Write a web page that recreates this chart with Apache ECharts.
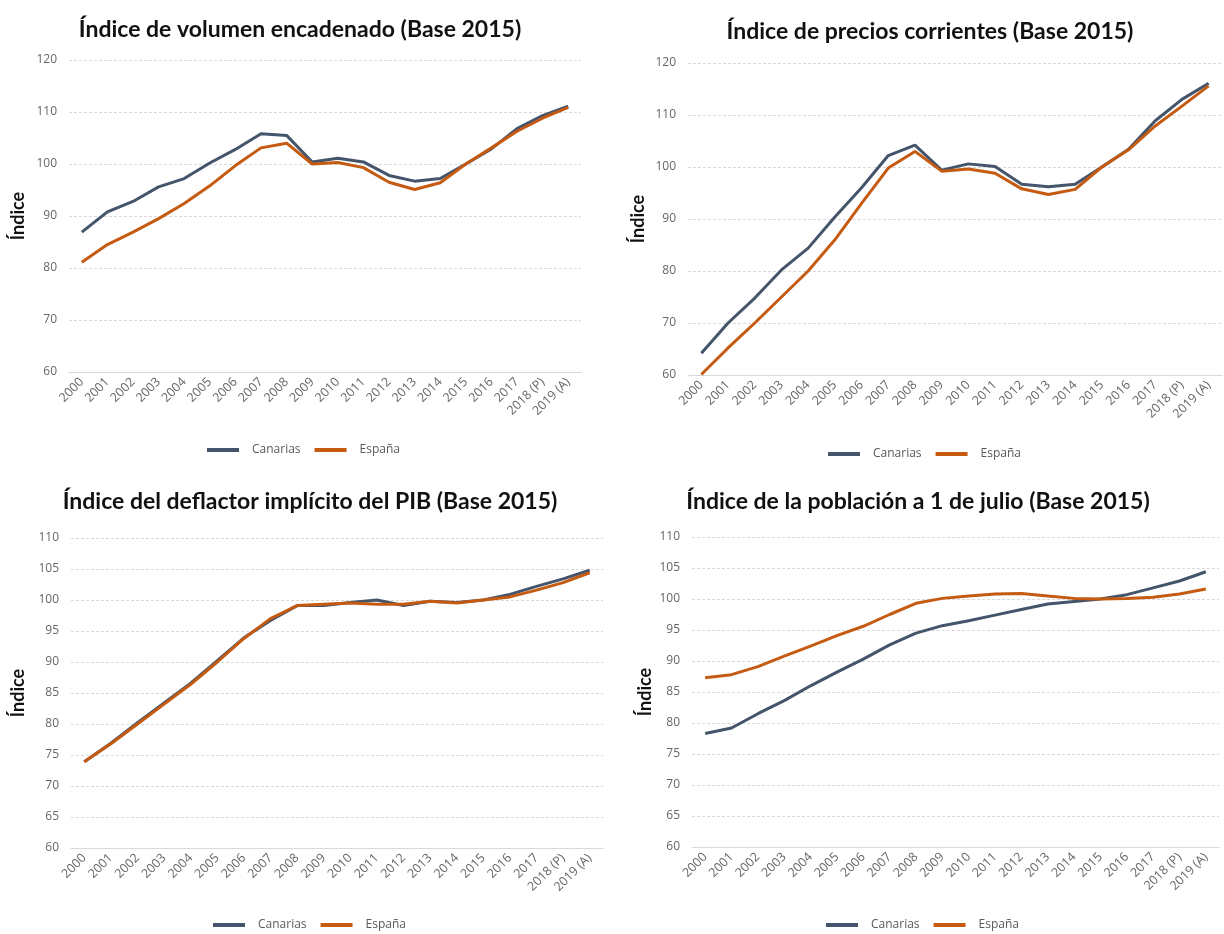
<!DOCTYPE html>
<html lang="es">
<head>
<meta charset="utf-8">
<title>Índices Base 2015</title>
<script src="https://cdn.jsdelivr.net/npm/echarts@6/dist/echarts.min.js"></script>
<style>
  html, body { margin: 0; padding: 0; background: #fff; }
  #chart { width: 1224px; height: 934px; }
</style>
</head>
<body>
<div id="chart"></div>
<script>
// categorias del eje x
var years = ['2000', '2001', '2002', '2003', '2004', '2005', '2006', '2007', '2008', '2009',
  '2010', '2011', '2012', '2013', '2014', '2015', '2016', '2017', '2018 (P)', '2019 (A)'];

// volumen encadenado
var volCanarias = [86.9, 90.8, 92.8, 95.6, 97.2, 100.2, 102.8, 105.8, 105.5, 100.4, 101.1, 100.4, 97.8, 96.7, 97.2, 100.0, 102.9, 106.8, 109.3, 111.1];
var volEspana   = [81.1, 84.5, 86.9, 89.5, 92.4, 95.8, 99.7, 103.1, 104.0, 100.0, 100.3, 99.3, 96.5, 95.1, 96.4, 100.0, 103.1, 106.3, 108.8, 110.9];

// precios corrientes
var preCanarias = [64.2, 70.0, 74.8, 80.2, 84.4, 90.4, 96.0, 102.2, 104.2, 99.4, 100.6, 100.1, 96.7, 96.2, 96.7, 100.0, 103.4, 108.9, 113.0, 116.1];
var preEspana   = [60.1, 65.2, 70.0, 75.0, 80.0, 86.0, 93.0, 99.8, 103.0, 99.2, 99.6, 98.8, 95.8, 94.7, 95.7, 100.0, 103.3, 107.9, 111.7, 115.6];

// deflactor implicito del PIB
var defCanarias = [73.9, 76.9, 80.2, 83.4, 86.6, 90.2, 93.9, 96.7, 99.1, 99.1, 99.6, 100.0, 99.1, 99.8, 99.6, 100.0, 100.9, 102.2, 103.4, 104.8];
var defEspana   = [73.9, 76.8, 80.0, 83.2, 86.4, 90.0, 93.8, 97.0, 99.1, 99.3, 99.5, 99.3, 99.3, 99.8, 99.5, 100.0, 100.5, 101.6, 102.8, 104.4];

// poblacion a 1 de julio
var pobCanarias = [78.3, 79.2, 81.5, 83.6, 86.0, 88.2, 90.3, 92.6, 94.5, 95.7, 96.5, 97.4, 98.3, 99.2, 99.6, 100.0, 100.7, 101.8, 102.9, 104.4];
var pobEspana   = [87.3, 87.8, 89.1, 90.8, 92.4, 94.1, 95.6, 97.5, 99.3, 100.1, 100.5, 100.8, 100.9, 100.5, 100.1, 100.0, 100.1, 100.3, 100.8, 101.6];

var titles = [
  'Índice de volumen encadenado (Base 2015)',
  'Índice de precios corrientes (Base 2015)',
  'Índice del deflactor implícito del PIB (Base 2015)',
  'Índice de la población a 1 de julio (Base 2015)'
];

var colCanarias = '#44546a', colEspana = '#c55a11';
var font = 'Lato, "Open Sans", sans-serif';
var labFont = '"Open Sans", Lato, sans-serif';

var panels = [
  { can: volCanarias, esp: volEspana, min: 60, max: 120, step: 10,
    grid: { left: 69, top: 60, width: 512, height: 312 }, title: [295, 28], legend: [294, 447], nameX: 18 },
  { can: preCanarias, esp: preEspana, min: 60, max: 120, step: 10,
    grid: { left: 688, top: 63, width: 534, height: 312 }, title: [925, 30], legend: [915, 451], nameX: 638 },
  { can: defCanarias, esp: defEspana, min: 60, max: 110, step: 5,
    grid: { left: 71, top: 538, width: 532, height: 310 }, title: [305, 500], legend: [300, 922], nameX: 18 },
  { can: pobCanarias, esp: pobEspana, min: 60, max: 110, step: 5,
    grid: { left: 692, top: 537, width: 527, height: 310 }, title: [913, 500], legend: [913, 922], nameX: 645 }
];

var option = {
  backgroundColor: '#fff',
  animation: false,
  title: [], legend: [], grid: [], xAxis: [], yAxis: [], series: []
};

panels.forEach(function (p, i) {
  option.title.push({
    text: titles[i],
    left: p.title[0], top: p.title[1] - 15,
    textAlign: 'center',
    textStyle: { fontFamily: font, fontWeight: 'bold', fontSize: 23, color: '#111' }
  });
  option.grid.push(p.grid);
  option.legend.push({
    left: p.legend[0] - 92, top: p.legend[1] - 8,
    itemWidth: 32, itemHeight: 4, icon: 'rect', itemGap: 14,
    textStyle: { fontFamily: labFont, fontSize: 12, color: '#595959', padding: [0, 0, 0, 8] },
    data: ['Canarias', 'España']
  });
  option.xAxis.push({
    type: 'category', gridIndex: i, data: years, boundaryGap: true,
    axisLine: { lineStyle: { color: '#d9d9d9' } },
    axisTick: { show: false },
    axisLabel: { rotate: 45, interval: 0, fontFamily: labFont, fontSize: 12.5, color: '#666', margin: 8 }
  });
  option.yAxis.push({
    type: 'value', gridIndex: i, min: p.min, max: p.max, interval: p.step,
    name: 'Índice', nameLocation: 'middle', nameRotate: 90,
    nameGap: p.grid.left - p.nameX - 9,
    nameTextStyle: { fontFamily: font, fontWeight: 'bold', fontSize: 18, color: '#111' },
    axisLine: { show: false }, axisTick: { show: false },
    axisLabel: { fontFamily: labFont, fontSize: 12, color: '#666', margin: 12 },
    splitLine: { lineStyle: { color: '#d9d9d9', type: [3, 2] } }
  });
  option.series.push({
    name: 'Canarias', type: 'line', xAxisIndex: i, yAxisIndex: i, data: p.can,
    showSymbol: false, lineStyle: { width: 3, color: colCanarias }, itemStyle: { color: colCanarias }
  });
  option.series.push({
    name: 'España', type: 'line', xAxisIndex: i, yAxisIndex: i, data: p.esp,
    showSymbol: false, lineStyle: { width: 3, color: colEspana }, itemStyle: { color: colEspana }
  });
});

var myChart = echarts.init(document.getElementById('chart'));
myChart.setOption(option);
</script>
</body>
</html>
